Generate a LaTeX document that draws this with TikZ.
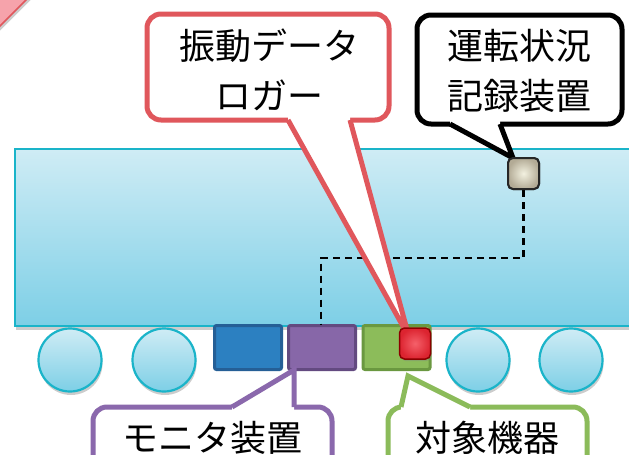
\documentclass[tikz,border=0pt]{standalone}
\usepackage{fontspec}
\newfontfamily\jp{Noto Sans CJK JP}
\usetikzlibrary{shadows}
\definecolor{cyanborder}{HTML}{1AB4C9}
\definecolor{bodytop}{HTML}{CFECF5}
\definecolor{bodybot}{HTML}{7DCFE6}
\definecolor{redc}{HTML}{E0575C}
\definecolor{purc}{HTML}{8A68AC}
\definecolor{grnc}{HTML}{8BBB5A}
\definecolor{bluefill}{HTML}{2C80C1}
\definecolor{blueedge}{HTML}{255F96}
\definecolor{purfill}{HTML}{8767A8}
\definecolor{puredge}{HTML}{634A80}
\definecolor{grnfill}{HTML}{8CBC5A}
\definecolor{grnedge}{HTML}{6A9840}
\definecolor{pinkfill}{HTML}{F6A3AB}
\definecolor{recin}{HTML}{F3F1E0}
\definecolor{recout}{HTML}{B3AB96}
\definecolor{devin}{HTML}{F5606A}
\definecolor{devout}{HTML}{DC2430}
\tikzset{
  shade1/.style={drop shadow={opacity=0.4,shadow xshift=1pt,shadow yshift=-3.5pt}},
  unitbox/.style={draw,line width=3pt,minimum width=67pt,minimum height=44pt,inner sep=0pt,rounded corners=2pt},
  wheel/.style={circle,draw=cyanborder,line width=2.2pt,minimum size=63pt,inner sep=0pt,top color=bodytop,bottom color=bodybot,shade1},
  callbox/.style={line width=5pt,fill=white,rounded corners=14pt},
  calltext/.style={font=\jp\fontsize{36}{50}\selectfont,align=center,inner sep=0pt},
  dashline/.style={line width=2.2pt,dash pattern=on 7pt off 5pt},
  recbox/.style={draw=black!85,line width=2pt,rounded corners=5pt,inner sep=0pt,minimum size=31pt,inner color=recin,outer color=recout}
}
\begin{document}
\begin{tikzpicture}[x=1pt,y=-1pt]
\clip (0,0) rectangle (629,455);
\fill[white] (0,0) rectangle (629,455);
% pink triangle
\draw[fill=pinkfill,draw=redc,line width=1.5pt,shade1] (-5,-5) -- (31,-5) -- (-5,31) -- cycle;
% car body
\node[draw=cyanborder,line width=2pt,top color=bodytop,bottom color=bodybot,shade1,minimum width=640pt,minimum height=177pt,inner sep=0pt,anchor=north west] (body) at (14,148) {};
% wheels
\node[wheel] (w1) at (70,360) {};
\node[wheel] (w2) at (164,360) {};
\node[wheel] (w3) at (478,360) {};
\node[wheel] (w4) at (571,360) {};
% units
\node[unitbox,fill=bluefill,draw=blueedge] (blue) at (248,347.5) {};
\node[unitbox,fill=purfill,draw=puredge] (purple) at (322,347.5) {};
\node[unitbox,fill=grnfill,draw=grnedge] (green) at (396.5,347.5) {};
% dashed link
\node[recbox] (rec) at (523.5,173.5) {};
\coordinate (bend1) at (523.5,258);
\coordinate (bend2) at (321,258);
\draw[dashline] (rec.south) -- (bend1) -- (bend2) -- (purple.north -| bend2);
% red callout
\coordinate (redtip) at (409,337);
\draw[callbox,draw=redc] (147,14) rectangle (389,120);
\fill[white] (288,110) -- (288,120) -- (redtip) -- (350,120) -- (350,110) -- cycle;
\draw[draw=redc,line width=5pt,line join=miter] (288,120) -- (redtip) -- (350,120);
\node[calltext] (redtext) at (269,70) {振動データ\\ロガー};
% black callout
\coordinate (blacktip) at (513,158);
\draw[callbox,draw=black] (417,15) rectangle (622,124);
\fill[white] (450,114) -- (450,124) -- (blacktip) -- (500,124) -- (500,114) -- cycle;
\draw[draw=black,line width=5pt,line join=miter] (450,124) -- (blacktip) -- (500,124);
\node[calltext] (blacktext) at (519,71) {運転状況\\記録装置};
% red device on top
\node[draw=black!45!red,line width=1.5pt,rounded corners=5pt,inner sep=0pt,minimum width=31pt,minimum height=31pt,inner color=devin,outer color=devout,drop shadow={opacity=0.35,shadow xshift=1pt,shadow yshift=-2pt}] (dev) at (415,343.5) {};
% recorder again on top of pointer
\node[recbox] at (rec) {};
% purple callout
\coordinate (purtip) at (294,370);
\draw[callbox,draw=purc] (93,407) rectangle (332,500);
\fill[white] (232,417) -- (232,407) -- (purtip) -- (294,407) -- (294,417) -- cycle;
\draw[draw=purc,line width=5pt,line join=miter] (232,407) -- (purtip) -- (294,407);
\node[calltext] (purtext) at (212,438) {モニタ装置};
% green callout
\coordinate (grntip) at (408,376);
\draw[callbox,draw=grnc] (388,407) rectangle (587,500);
\fill[white] (401,417) -- (401,407) -- (grntip) -- (470,407) -- (470,417) -- cycle;
\draw[draw=grnc,line width=5pt,line join=miter] (401,407) -- (grntip) -- (470,407);
\node[calltext] (grntext) at (487,438) {対象機器};
\end{tikzpicture}
\end{document}
